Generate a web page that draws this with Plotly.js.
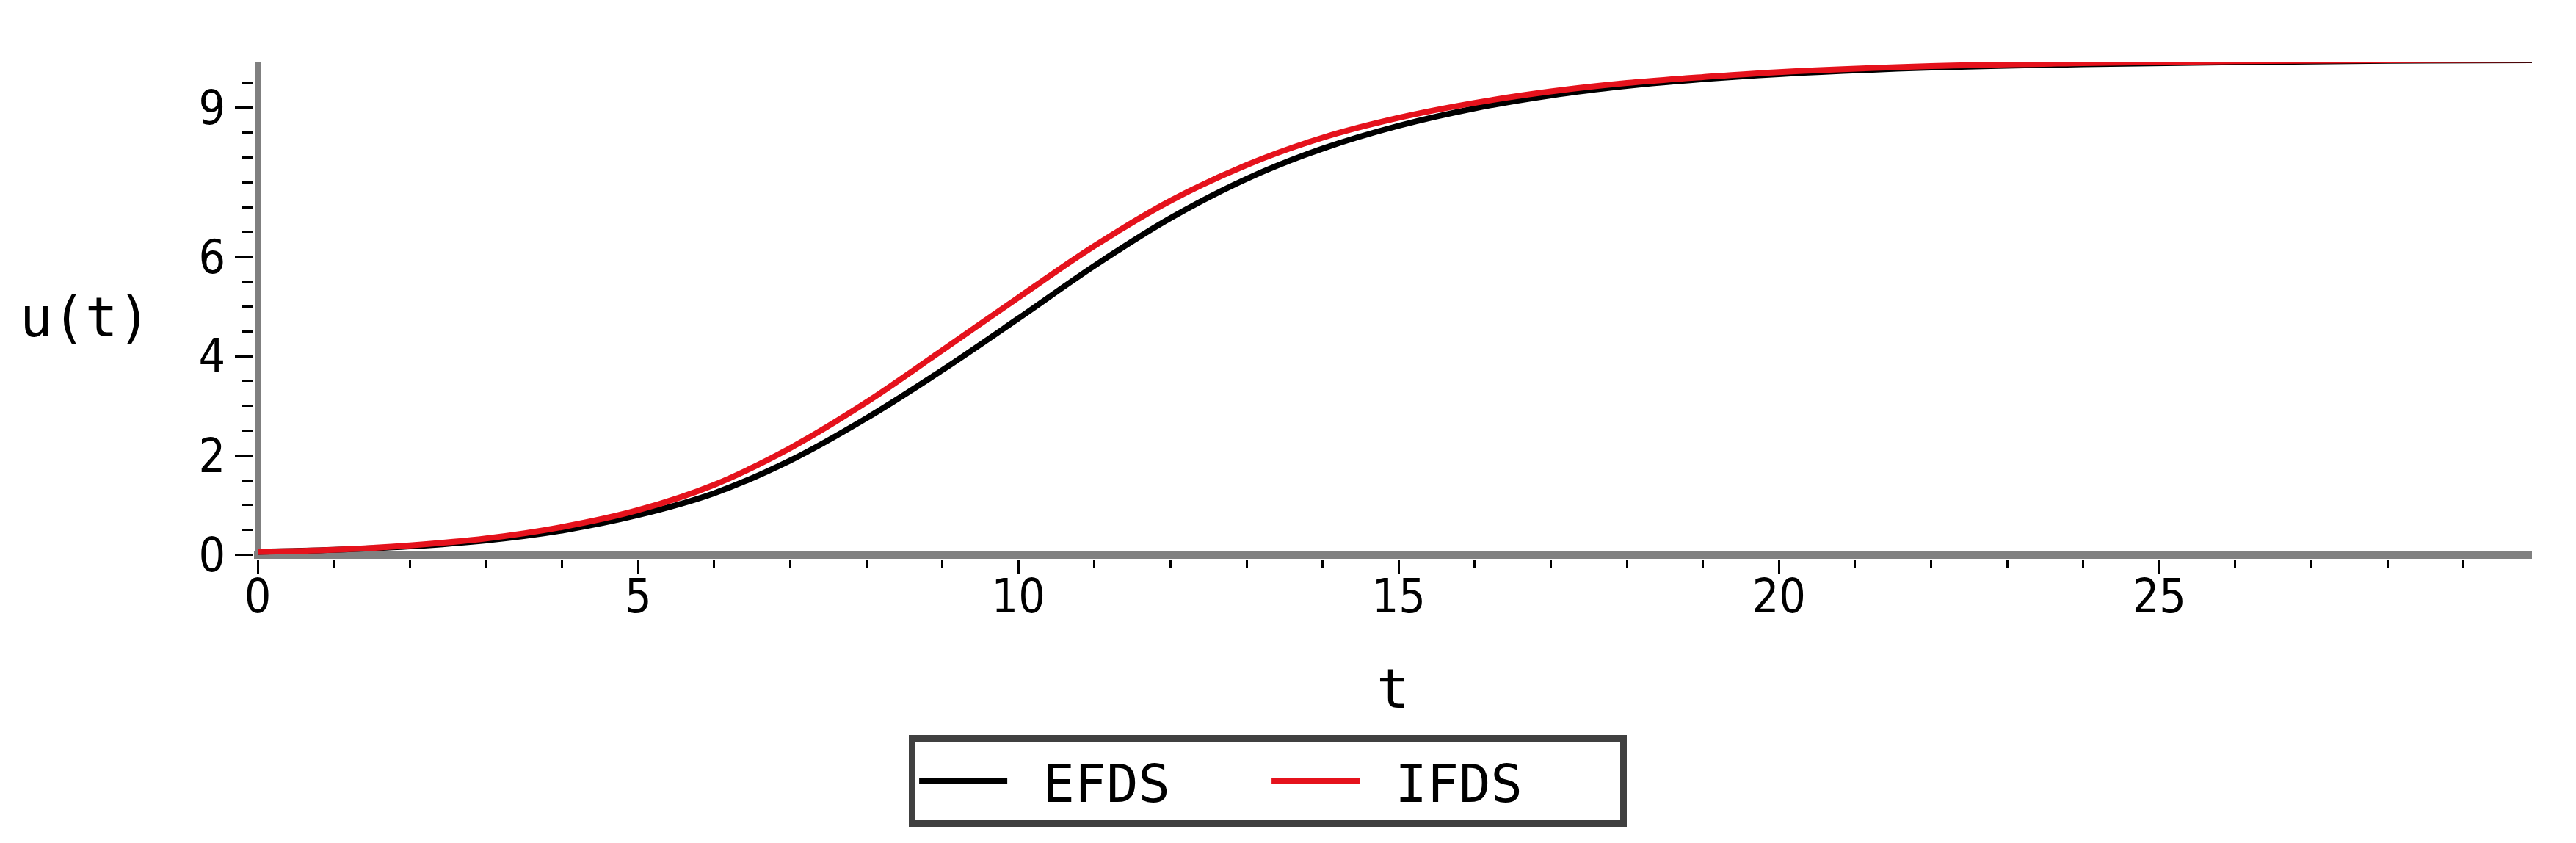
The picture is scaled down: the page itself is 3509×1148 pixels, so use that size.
<!DOCTYPE html>
<html>
<head>
<meta charset="utf-8">
<script src="https://cdn.plot.ly/plotly-3.0.1.min.js"></script>
<style>
  html, body { margin: 0; padding: 0; background: #ffffff; }
  #chart { width: 3509px; height: 1148px; }
</style>
</head>
<body>
<div id="chart"></div>
<script>
// ---- data ----
const tValues = [0, 1, 2, 3, 4, 5, 6, 7, 8, 9, 10, 11, 12, 13, 14, 15, 16, 17, 18, 19, 20, 22, 24, 26, 28, 30];
const efdsValues = [0.06, 0.10, 0.17, 0.29, 0.49, 0.80, 1.24, 1.90, 2.75, 3.72, 4.76, 5.82, 6.78, 7.57, 8.18, 8.64, 8.99, 9.25, 9.44, 9.58, 9.68, 9.81, 9.88, 9.92, 9.95, 9.96];
const ifdsValues = [0.06, 0.10, 0.19, 0.33, 0.56, 0.90, 1.41, 2.15, 3.07, 4.12, 5.18, 6.22, 7.13, 7.85, 8.40, 8.80, 9.10, 9.33, 9.50, 9.62, 9.72, 9.84, 9.90, 9.94, 9.96, 9.97];
const seriesNames = ["EFDS", "IFDS"];
const xTickVals = [0, 5, 10, 15, 20, 25];
const xTickText = ["0", "5", "10", "15", "20", "25"];
const yTickVals = [0, 2, 4, 6, 9];
const yTickText = ["0", "2", "4", "6", "9"];

const tickFont = { family: "Liberation Sans Narrow, DejaVu Sans Condensed, Liberation Sans, sans-serif", size: 64, color: "#000000" };
const titleFont = { family: "DejaVu Sans Mono, Liberation Mono, monospace", size: 74, color: "#000000" };
const legendFont = { family: "DejaVu Sans Mono, Liberation Mono, monospace", size: 72, color: "#000000" };

const traces = [
  {
    x: tValues, y: efdsValues, name: "\u00A0" + seriesNames[0], type: "scatter", mode: "lines",
    line: { color: "#000000", width: 8, shape: "spline", smoothing: 1 }
  },
  {
    x: tValues, y: ifdsValues, name: "\u00A0" + seriesNames[1], type: "scatter", mode: "lines",
    line: { color: "#e5121c", width: 8, shape: "spline", smoothing: 1 }
  }
];

const layout = {
  width: 3509, height: 1148,
  paper_bgcolor: "#ffffff", plot_bgcolor: "#ffffff",
  margin: { l: 346, r: 60, t: 84, b: 387 },
  showlegend: true,
  xaxis: {
    range: [-0.05, 29.9],
    showgrid: false,
    showline: false,
    zeroline: true, zerolinecolor: "#808080", zerolinewidth: 7,
    tickmode: "array", tickvals: xTickVals, ticktext: xTickText,
    ticks: "outside", ticklen: 20, tickwidth: 3, tickcolor: "#000000",
    minor: { dtick: 1, tick0: 0, ticks: "outside", ticklen: 12, tickwidth: 3, tickcolor: "#000000", showgrid: false },
    tickfont: tickFont,
    ticklabelstandoff: -25,
    title: { text: "t", font: titleFont, standoff: 64 },
    automargin: false
  },
  yaxis: {
    range: [-0.08, 9.93],
    showgrid: false,
    showline: false,
    zeroline: true, zerolinecolor: "#808080", zerolinewidth: 10,
    tickmode: "array", tickvals: yTickVals, ticktext: yTickText,
    ticks: "outside", ticklen: 25, tickwidth: 3, tickcolor: "#000000",
    minor: { dtick: 0.5, tick0: 0, ticks: "outside", ticklen: 16, tickwidth: 3, tickcolor: "#000000", showgrid: false },
    tickfont: tickFont,
    automargin: false
  },
  annotations: [
    {
      text: "u(t)", xref: "paper", yref: "paper",
      x: -0.0741, y: 0.486, xanchor: "center", yanchor: "middle",
      showarrow: false, font: titleFont
    }
  ],
  legend: {
    orientation: "h",
    x: 0.2875, xanchor: "left",
    y: -0.355, yanchor: "top",
    bgcolor: "#ffffff",
    bordercolor: "#404040", borderwidth: 9,
    font: legendFont,
    itemwidth: 120,
    entrywidth: 345, entrywidthmode: "pixels",
    tracegroupgap: 0
  }
};

Plotly.newPlot("chart", traces, layout, { staticPlot: true, displayModeBar: false });
</script>
</body>
</html>
